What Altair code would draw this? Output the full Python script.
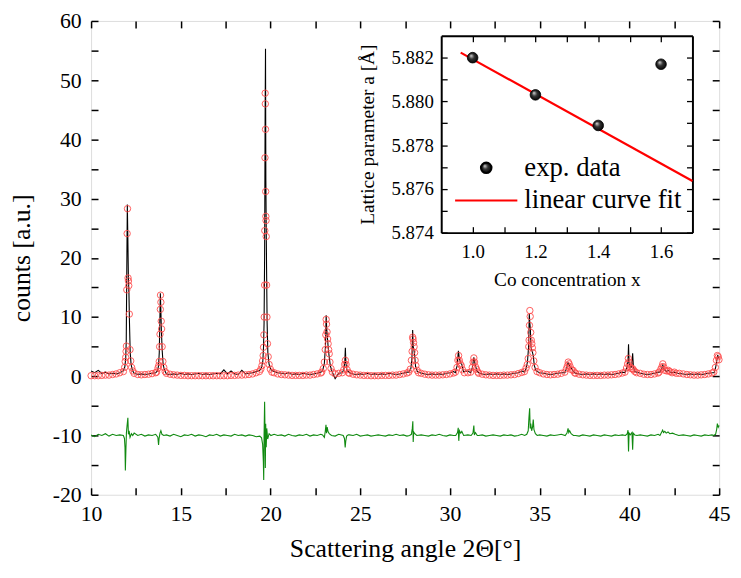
import altair as alt
import pandas as pd

# ---------------- XRD pattern: background grid (2theta) ----------------
bg_x = [10.0, 10.2, 10.4, 10.6, 10.8, 11.0, 11.2, 11.4, 11.6,
        12.4, 12.6, 12.8, 13.0, 13.2, 13.4, 13.6,
        14.2, 14.4, 14.6, 14.8, 15.0, 15.2, 15.4, 15.6, 15.8, 16.0, 16.2, 16.4, 16.6,
        16.8, 17.0, 17.2, 17.4, 17.6, 17.8, 18.0, 18.2, 18.4, 18.6, 18.8, 19.0, 19.2,
        20.2, 20.4, 20.6, 20.8, 21.0, 21.2, 21.4, 21.6, 21.8, 22.0, 22.2, 22.4, 22.6, 22.8,
        23.6, 23.8,
        24.4, 24.6, 24.8, 25.0, 25.2, 25.4, 25.6, 25.8, 26.0, 26.2, 26.4, 26.6, 26.8,
        27.0, 27.2, 27.4, 27.6,
        28.4, 28.6, 28.8, 29.0, 29.2, 29.4, 29.6, 29.8, 30.0, 30.2,
        31.0,
        31.6, 31.8, 32.0, 32.2, 32.4, 32.6, 32.8, 33.0, 33.2, 33.4, 33.6, 33.8, 34.0,
        35.0, 35.2, 35.4, 35.6, 35.8, 36.0, 36.2,
        37.0, 37.2, 37.4, 37.6, 37.8, 38.0, 38.2, 38.4, 38.6, 38.8, 39.0, 39.2, 39.4, 39.6,
        40.6, 40.8, 41.0, 41.2, 41.4, 41.6,
        43.0, 43.2, 43.4, 43.6, 43.8, 44.0, 44.2, 44.4, 44.6]

bg_obs = [0.9, 0.6, 1.0, 0.5, 0.7, 0.4, 0.5, 0.4, 0.6,
          0.5, 0.3, 0.4, 0.3, 0.4, 0.5, 0.6,
          0.4, 0.3, 0.4, 0.3, 0.5, 0.3, 0.4, 0.3, 0.4, 0.5, 0.3, 0.4, 0.3,
          0.4, 0.5, 0.4, 1.1, 0.4, 0.9, 0.4, 0.3, 1.0, 0.4, 0.5, 0.6, 0.8,
          0.8, 0.6, 0.5, 0.4, 0.6, 0.3, 0.4, 0.3, 0.5, 0.4, 0.3, 0.4, 0.5, 0.7,
          -0.4, 0.5,
          0.6, 0.4, 0.3, 0.4, 0.3, 0.5, 0.3, 0.4, 0.3, 0.4, 0.3, 0.5, 0.4,
          0.3, 0.4, 0.5, 0.7,
          0.5, 0.4, 0.3, 0.4, 0.3, 0.4, 0.3, 0.5, 0.6, 0.8,
          0.9,
          0.6, 0.4, 0.3, 0.4, 0.3, 0.4, 0.3, 0.4, 0.3, 0.4, 0.5, 0.6, 0.9,
          0.6, 0.5, 0.4, 0.3, 0.4, 0.5, 0.6,
          0.5, 0.4, 0.3, 0.4, 0.3, 0.4, 0.3, 0.4, 0.3, 0.4, 0.3, 0.4, 0.5, 0.7,
          0.5, 0.4, 0.3, 0.4, 0.5, 0.7,
          0.4, 0.3, 0.4, 0.3, 0.4, 0.3, 0.4, 0.5, 0.6]

bg_calc = [0.1, 0.1, 0.1, 0.15, 0.2, 0.2, 0.3, 0.4, 0.6,
           0.5, 0.3, 0.25, 0.3, 0.35, 0.45, 0.6,
           0.5, 0.35, 0.25, 0.2, 0.15, 0.15, 0.1, 0.1, 0.1, 0.1, 0.1, 0.1, 0.1,
           0.1, 0.1, 0.1, 0.1, 0.1, 0.15, 0.15, 0.2, 0.2, 0.25, 0.3, 0.4, 0.6,
           0.6, 0.4, 0.3, 0.25, 0.2, 0.15, 0.15, 0.15, 0.15, 0.2, 0.2, 0.3, 0.4, 0.55,
           0.4, 0.5,
           0.5, 0.35, 0.25, 0.2, 0.15, 0.15, 0.1, 0.1, 0.1, 0.15, 0.15, 0.15, 0.2,
           0.2, 0.3, 0.4, 0.55,
           0.5, 0.35, 0.25, 0.2, 0.2, 0.2, 0.25, 0.3, 0.4, 0.55,
           0.6,
           0.5, 0.35, 0.25, 0.2, 0.15, 0.15, 0.15, 0.2, 0.2, 0.25, 0.3, 0.45, 0.65,
           0.6, 0.4, 0.3, 0.25, 0.3, 0.35, 0.5,
           0.5, 0.35, 0.25, 0.2, 0.15, 0.15, 0.15, 0.15, 0.2, 0.2, 0.25, 0.3, 0.4, 0.55,
           0.5, 0.35, 0.3, 0.3, 0.4, 0.55,
           0.4, 0.3, 0.25, 0.2, 0.2, 0.25, 0.3, 0.4, 0.55]

bg_diff = [-9.9, -10.2, -9.8, -10.0, -9.7, -10.1, -9.8, -10.0, -9.9,
           -9.6, -10.0, -9.8, -10.1, -9.9, -10.0, -9.8,
           -9.9, -10.1, -9.8, -10.0, -10.2, -9.9, -10.0, -9.8, -10.1, -9.9, -10.0, -10.2, -9.9,
           -10.0, -9.8, -10.1, -9.9, -10.0, -10.1, -9.8, -10.0, -9.9, -10.1, -9.9, -10.0, -10.2,
           -9.8, -10.0, -9.9, -10.1, -9.8, -10.0, -10.1, -9.9, -10.0, -9.8, -10.1, -9.9, -10.0, -9.8,
           -10.1, -9.8,
           -9.9, -10.0, -9.8, -10.1, -10.0, -9.9, -10.1, -10.0, -9.9, -10.0, -10.1, -9.9, -10.0,
           -9.8, -10.0, -9.9, -10.1,
           -9.9, -10.0, -10.1, -9.9, -10.0, -9.8, -10.0, -10.1, -9.9, -10.0,
           -9.9,
           -10.0, -9.9, -10.1, -10.0, -9.9, -10.0, -10.1, -9.9, -10.0, -9.9, -10.1, -10.0, -9.8,
           -9.9, -10.0, -10.1, -9.9, -10.0, -9.9, -9.8,
           -10.0, -10.1, -9.9, -10.0, -10.1, -9.9, -10.0, -10.1, -9.9, -10.0, -10.1, -9.9, -10.0, -9.9,
           -9.9, -10.0, -10.1, -9.9, -10.0, -9.8,
           -9.9, -10.0, -10.1, -9.9, -10.0, -10.1, -9.9, -10.0, -9.9]

# ---------------- peak regions ----------------
pk_obs_x = [11.80, 11.88, 11.93, 11.96, 11.99, 12.02, 12.05, 12.08, 12.11, 12.14, 12.18, 12.23, 12.30,
            13.70, 13.76, 13.80, 13.83, 13.86, 13.89, 13.92, 13.96, 14.01, 14.08,
            19.40, 19.50, 19.57, 19.61, 19.64, 19.67, 19.70, 19.72, 19.74, 19.76, 19.78, 19.81, 19.85, 19.92, 20.02,
            22.90, 23.00, 23.06, 23.10, 23.13, 23.17, 23.21, 23.26, 23.33, 23.42,
            24.00, 24.09, 24.14, 24.17, 24.20, 24.26,
            27.72, 27.82, 27.88, 27.92, 27.95, 27.99, 28.03, 28.08, 28.18,
            30.30, 30.40, 30.47, 30.52, 30.60, 30.66, 30.75,
            31.15, 31.25, 31.33, 31.40, 31.50,
            34.15, 34.25, 34.32, 34.38, 34.42, 34.45, 34.48, 34.51, 34.55, 34.60, 34.64, 34.70, 34.80,
            36.40, 36.50, 36.58, 36.66, 36.74, 36.85,
            39.75, 39.85, 39.92, 39.95, 39.98, 40.05, 40.12, 40.18, 40.22, 40.30,
            41.70, 41.80, 41.86, 41.93, 42.05, 42.18, 42.30, 42.50, 42.70,
            44.72, 44.80, 44.86, 44.92, 44.96, 45.00]
pk_obs_y = [0.9, 1.6, 3.0, 6.0, 18.0, 29.0, 23.0, 16.5, 14.0, 9.0, 4.0, 2.0, 1.0,
            0.9, 1.8, 4.0, 9.0, 14.0, 11.0, 7.5, 4.5, 2.2, 1.1,
            1.0, 1.5, 2.5, 5.0, 9.0, 20.0, 45.0, 55.3, 33.0, 25.0, 18.0, 9.0, 4.0, 2.0, 1.1,
            0.9, 2.2, 5.0, 10.3, 8.0, 6.5, 5.0, 3.5, 1.8, 0.9,
            0.6, 1.2, 2.5, 4.8, 2.2, 1.0,
            0.7, 1.3, 3.0, 7.8, 5.0, 4.5, 3.6, 1.7, 0.8,
            0.6, 1.8, 4.3, 3.0, 2.2, 2.0, 0.8,
            0.6, 1.5, 3.2, 2.0, 0.9,
            0.7, 1.4, 2.5, 5.0, 10.5, 9.0, 8.0, 5.0, 4.5, 4.0, 3.5, 1.8, 0.9,
            0.6, 1.3, 2.3, 1.8, 1.5, 0.9,
            0.6, 1.4, 2.5, 5.4, 2.2, 1.6, 1.5, 3.9, 1.6, 0.8,
            0.7, 1.3, 1.9, 1.2, 0.8, 1.0, 0.6, 0.7, 0.5,
            0.6, 1.4, 2.5, 3.6, 3.2, 3.0]

pk_calc_x = [11.80, 11.87, 11.90, 11.93, 11.95, 11.97, 11.99, 12.01, 12.03, 12.06, 12.08, 12.10, 12.13, 12.17, 12.21, 12.26, 12.33,
             13.65, 13.73, 13.77, 13.80, 13.82, 13.84, 13.86, 13.87, 13.89, 13.91, 13.93, 13.96, 14.00, 14.05, 14.13,
             19.38, 19.46, 19.52, 19.56, 19.59, 19.61, 19.63, 19.65, 19.67, 19.68, 19.69, 19.70, 19.71, 19.72, 19.73,
             19.74, 19.75, 19.76, 19.78, 19.80, 19.83, 19.87, 19.92, 19.99, 20.08,
             22.85, 22.94, 23.00, 23.05, 23.08, 23.10, 23.12, 23.15, 23.18, 23.21, 23.24, 23.27, 23.31, 23.37, 23.45,
             24.00, 24.08, 24.13, 24.17, 24.21, 24.27, 24.35,
             27.70, 27.79, 27.85, 27.89, 27.92, 27.94, 27.97, 28.00, 28.03, 28.06, 28.10, 28.17, 28.25,
             30.30, 30.39, 30.44, 30.48, 30.52, 30.57, 30.63, 30.70, 30.80,
             31.15, 31.24, 31.29, 31.33, 31.37, 31.42, 31.48, 31.56,
             34.15, 34.24, 34.31, 34.36, 34.39, 34.41, 34.43, 34.45, 34.47, 34.50, 34.53, 34.56, 34.59, 34.62, 34.67, 34.74, 34.85,
             36.40, 36.49, 36.55, 36.59, 36.64, 36.70, 36.78, 36.86, 36.95,
             39.75, 39.84, 39.90, 39.94, 39.98, 40.03, 40.10, 40.17, 40.22, 40.30, 40.40,
             41.65, 41.75, 41.81, 41.86, 41.91, 41.98, 42.08, 42.17, 42.25, 42.38, 42.50, 42.62, 42.78,
             44.70, 44.79, 44.85, 44.90, 44.95, 44.99]
pk_calc_y = [0.8, 1.5, 2.5, 3.2, 4.2, 5.1, 14.6, 24.1, 28.3, 16.6, 16.1, 15.3, 10.5, 4.5, 2.6, 1.5, 0.9,
             0.7, 1.4, 1.8, 2.5, 5.0, 7.1, 11.3, 13.7, 12.5, 9.3, 8.0, 5.0, 2.5, 1.5, 0.8,
             0.8, 1.2, 1.8, 2.6, 3.5, 4.9, 7.0, 10.0, 15.4, 24.6, 36.9, 47.8, 46.0, 41.7, 31.2,
             27.0, 26.3, 23.6, 15.4, 10.0, 5.5, 3.3, 2.0, 1.2, 0.7,
             0.7, 1.3, 2.4, 4.5, 7.0, 9.6, 8.8, 7.5, 6.3, 5.5, 4.5, 3.8, 2.4, 1.3, 0.7,
             0.6, 1.1, 2.0, 2.7, 2.0, 1.1, 0.6,
             0.7, 1.2, 2.7, 4.2, 6.6, 6.3, 5.7, 5.0, 4.0, 2.7, 1.8, 1.0, 0.6,
             0.7, 1.5, 2.7, 3.5, 2.7, 2.1, 1.8, 1.1, 0.6,
             0.7, 1.5, 2.4, 3.1, 2.4, 1.6, 1.2, 0.7,
             0.8, 1.4, 2.0, 3.0, 5.0, 6.1, 8.6, 11.1, 10.1, 7.4, 6.1, 5.5, 4.8, 4.0, 2.6, 1.5, 0.8,
             0.7, 1.3, 1.8, 2.4, 2.1, 1.6, 1.1, 1.0, 0.6,
             0.7, 1.4, 2.1, 3.0, 2.4, 1.6, 1.3, 1.3, 1.1, 0.8, 0.6,
             0.7, 1.2, 1.6, 2.1, 1.6, 1.0, 0.9, 1.0, 0.8, 0.6, 0.7, 0.5, 0.5,
             0.7, 1.5, 2.7, 3.5, 3.3, 2.8]

pk_diff_x = [11.80, 11.86, 11.89, 11.91, 11.94, 11.97, 12.00, 12.05, 12.08, 12.12, 12.17, 12.25, 12.32,
             13.65, 13.72, 13.76, 13.79, 13.84, 13.89, 13.95, 14.05,
             19.40, 19.50, 19.56, 19.60, 19.62, 19.64, 19.67, 19.69, 19.71, 19.73, 19.76, 19.79, 19.84, 19.92, 20.02,
             22.90, 23.00, 23.05, 23.09, 23.12, 23.16, 23.20, 23.27, 23.40,
             24.05, 24.12, 24.16, 24.19, 24.24, 24.33,
             27.75, 27.85, 27.90, 27.93, 27.95, 27.98, 28.04, 28.15,
             30.32, 30.42, 30.46, 30.49, 30.53, 30.60, 30.66, 30.76,
             31.18, 31.28, 31.33, 31.36, 31.42, 31.52,
             34.16, 34.28, 34.36, 34.40, 34.44, 34.47, 34.50, 34.55, 34.60, 34.64, 34.68, 34.76, 34.86,
             36.42, 36.52, 36.58, 36.62, 36.67, 36.75, 36.88,
             39.78, 39.88, 39.92, 39.95, 39.98, 40.05, 40.14, 40.18, 40.21, 40.30, 40.42,
             41.70, 41.80, 41.85, 41.90, 41.97, 42.05, 42.15, 42.25, 42.40, 42.55, 42.75,
             44.70, 44.80, 44.86, 44.90, 44.95, 45.00]
pk_diff_y = [-10.0, -10.5, -12.0, -15.9, -12.5, -9.5, -8.5, -7.0, -9.8, -9.2, -10.3, -9.7, -10.0,
             -10.0, -10.3, -11.6, -10.5, -9.6, -9.2, -9.8, -10.0,
             -10.1, -10.4, -11.5, -14.5, -17.5, -10.0, -4.3, -9.0, -15.5, -8.0, -12.0, -8.8, -10.6, -9.7, -10.0,
             -9.9, -10.3, -9.3, -8.2, -9.6, -8.6, -9.3, -9.7, -10.0,
             -10.0, -10.5, -12.0, -11.0, -10.1, -9.9,
             -10.0, -9.8, -8.8, -7.6, -11.1, -9.4, -9.7, -10.0,
             -10.0, -9.5, -8.7, -10.9, -9.2, -9.6, -9.3, -10.0,
             -10.0, -9.6, -8.3, -9.9, -9.5, -10.0,
             -10.0, -9.8, -9.2, -7.0, -5.4, -8.8, -8.0, -9.2, -8.6, -7.3, -9.0, -9.7, -10.0,
             -10.0, -9.6, -8.8, -9.5, -9.2, -9.7, -10.0,
             -10.0, -9.7, -9.1, -12.7, -9.6, -9.9, -9.5, -12.4, -9.6, -9.9, -10.0,
             -10.0, -9.4, -9.1, -9.5, -9.3, -9.6, -9.4, -9.7, -9.6, -9.8, -10.0,
             -10.0, -9.8, -9.0, -8.0, -8.6, -8.3]

x_ticks = [10, 12.5, 15, 17.5, 20, 22.5, 25, 27.5, 30, 32.5, 35, 37.5, 40, 42.5, 45]
y_ticks = [-20, -15, -10, -5, 0, 5, 10, 15, 20, 25, 30, 35, 40, 45, 50, 55, 60]

# ---------------- inset: lattice parameter ----------------
conc = [1.0, 1.2, 1.4, 1.6]
lattice = [5.8820, 5.8803, 5.8789, 5.8817]
fit_x = [0.962, 1.70]
fit_y = [5.88223, 5.87636]
inset_x_ticks = [1.0, 1.1, 1.2, 1.3, 1.4, 1.5, 1.6]
inset_y_ticks = [5.874, 5.875, 5.876, 5.877, 5.878, 5.879, 5.880, 5.881, 5.882]
series_names = ["exp. data", "linear curve fit"]

obs_df = pd.DataFrame({"t": bg_x + pk_obs_x, "v": bg_obs + pk_obs_y}).sort_values("t")
calc_df = pd.DataFrame({"t": bg_x + pk_calc_x, "v": bg_calc + pk_calc_y}).sort_values("t")
diff_df = pd.DataFrame({"t": bg_x + pk_diff_x, "v": bg_diff + pk_diff_y}).sort_values("t")
pts_df = pd.DataFrame({"c": conc, "a": lattice, "s": series_names[0]})
fit_df = pd.DataFrame({"c": fit_x, "a": fit_y, "s": series_names[1]})

SERIF = "Liberation Serif"
W, H = 635, 479
IN_L, IN_R, IN_T, IN_B = 354, 608, 15, 214
inward = alt.ExprRef(expr="-7")
inward_in = alt.ExprRef(expr="-6")

xs = alt.Scale(domain=[10, 45], nice=False, zero=False)
ys = alt.Scale(domain=[-20, 60], nice=False, zero=False)

x_axis = alt.Axis(values=x_ticks, labelExpr="datum.value % 5 === 0 ? '' + datum.value : ''",
                  tickSize=inward, tickWidth=1.5, tickColor="black", labelPadding=16,
                  domain=False, grid=False, labelFlush=False, labelOverlap=False,
                  labelFont=SERIF, labelFontSize=22, labelColor="black",
                  title="Scattering angle 2Θ[°]", titleFont=SERIF, titleFontSize=26,
                  titleFontWeight="normal", titleColor="black", titlePadding=11)
y_axis = alt.Axis(values=y_ticks, labelExpr="datum.value % 10 === 0 ? '' + datum.value : ''",
                  tickSize=inward, tickWidth=1.5, tickColor="black", labelPadding=17,
                  domain=False, grid=False, labelFlush=False, labelOverlap=False,
                  labelFont=SERIF, labelFontSize=22, labelColor="black",
                  title="counts [a.u.]", titleFont=SERIF, titleFontSize=26,
                  titleFontWeight="normal", titleColor="black", titlePadding=18)

X = alt.X("t:Q", scale=xs, axis=x_axis)
Y = alt.Y("v:Q", scale=ys, axis=y_axis)

obs_line = alt.Chart(obs_df).mark_line(color="black", strokeWidth=1.1).encode(x=X, y=Y)
calc_pts = alt.Chart(calc_df).mark_point(shape="circle", filled=False, color="#ff4d4d",
                                         size=42, strokeWidth=1, opacity=0.9).encode(x=X, y=Y)
diff_line = alt.Chart(diff_df).mark_line(color="#118a11", strokeWidth=1.1).encode(x=X, y=Y)
main = alt.layer(obs_line, calc_pts, diff_line)

mirror = alt.Chart(obs_df).mark_line(opacity=0).encode(
    x=alt.X("t:Q", scale=xs, axis=alt.Axis(orient="top", values=x_ticks, labels=False, tickSize=inward,
                                            tickWidth=1.5, tickColor="black", domain=False, grid=False, title=None)),
    y=alt.Y("v:Q", scale=ys, axis=alt.Axis(orient="right", values=y_ticks, labels=False, tickSize=inward,
                                            tickWidth=1.5, tickColor="black", domain=False, grid=False, title=None)),
)

ixs = alt.Scale(domain=[0.9, 1.7], range=[IN_L, IN_R], nice=False, zero=False)
iys = alt.Scale(domain=[5.874, 5.883], range=[IN_B, IN_T], nice=False, zero=False)
ix_axis = alt.Axis(orient="bottom", offset=IN_B - H, values=inset_x_ticks,
                   labelExpr="round(datum.value * 10) % 2 === 0 ? format(datum.value, '.1f') : ''",
                   tickSize=inward_in, tickWidth=1.3, tickColor="black", labelPadding=16,
                   domain=True, domainColor="black", domainWidth=2, grid=False, labelFlush=False, labelOverlap=False,
                   labelFont=SERIF, labelFontSize=19, labelColor="black",
                   title="Co concentration x", titleFont=SERIF, titleFontSize=19.5, titleFontWeight="normal",
                   titleColor="black", titlePadding=9)
iy_axis = alt.Axis(orient="left", offset=-IN_L, values=inset_y_ticks,
                   labelExpr="round(datum.value * 1000) % 2 === 0 ? format(datum.value, '.3f') : ''",
                   tickSize=inward_in, tickWidth=1.3, tickColor="black", labelPadding=14,
                   domain=True, domainColor="black", domainWidth=2, grid=False, labelFlush=False, labelOverlap=False,
                   labelFont=SERIF, labelFontSize=19, labelColor="black",
                   title="Lattice parameter a [Å]", titleFont=SERIF, titleFontSize=19.5, titleFontWeight="normal",
                   titleColor="black", titlePadding=14)

legend = alt.Legend(orient="none", legendX=386, legendY=135, title=None, labelFont=SERIF, labelFontSize=27,
                    labelColor="black", symbolSize=110, symbolStrokeWidth=2.2, labelOffset=25, rowPadding=5,
                    padding=0)
stroke_enc = alt.Stroke("s:N", scale=alt.Scale(domain=series_names, range=["black", "red"]), legend=legend)
shape_enc = alt.Shape("s:N", scale=alt.Scale(domain=series_names, range=["circle", "M-6,0H6"]), legend=legend)

sphere = {"gradient": "radial", "x1": 0.35, "y1": 0.3, "r1": 0.0, "x2": 0.5, "y2": 0.5, "r2": 0.55,
          "stops": [{"offset": 0.0, "color": "#dddddd"}, {"offset": 0.45, "color": "#333333"},
                    {"offset": 1.0, "color": "#000000"}]}

fit_line = alt.Chart(fit_df).mark_line(strokeWidth=2.2).encode(
    x=alt.X("c:Q", scale=ixs, axis=ix_axis), y=alt.Y("a:Q", scale=iys, axis=iy_axis), stroke=stroke_enc)
inset_pts = alt.Chart(pts_df).mark_point(filled=True, fill=sphere, size=115, strokeWidth=0.8, opacity=1).encode(
    x=alt.X("c:Q", scale=ixs, axis=ix_axis), y=alt.Y("a:Q", scale=iys, axis=iy_axis),
    stroke=stroke_enc, shape=shape_enc)
inset = alt.layer(fit_line, inset_pts)

inset_mirror = alt.Chart(fit_df).mark_line(opacity=0).encode(
    x=alt.X("c:Q", scale=ixs, axis=alt.Axis(orient="top", offset=-IN_T, values=inset_x_ticks, labels=False,
                                             tickSize=inward_in, tickWidth=1.3, tickColor="black",
                                             domain=True, domainColor="black", domainWidth=2, grid=False, title=None)),
    y=alt.Y("a:Q", scale=iys, axis=alt.Axis(orient="right", offset=IN_R - W, values=inset_y_ticks, labels=False,
                                             tickSize=inward_in, tickWidth=1.3, tickColor="black",
                                             domain=True, domainColor="black", domainWidth=2, grid=False, title=None)),
)

chart = alt.layer(main, mirror, inset, inset_mirror).resolve_scale(
    x="independent", y="independent"
).properties(
    width=W, height=H, autosize=alt.AutoSizeParams(type="none"),
    padding={"left": 84, "top": 10, "right": 14, "bottom": 73},
).configure_view(stroke="black", strokeWidth=2).configure(background="white")

chart.save("out.html", embed_options={"renderer": "svg", "actions": False})
